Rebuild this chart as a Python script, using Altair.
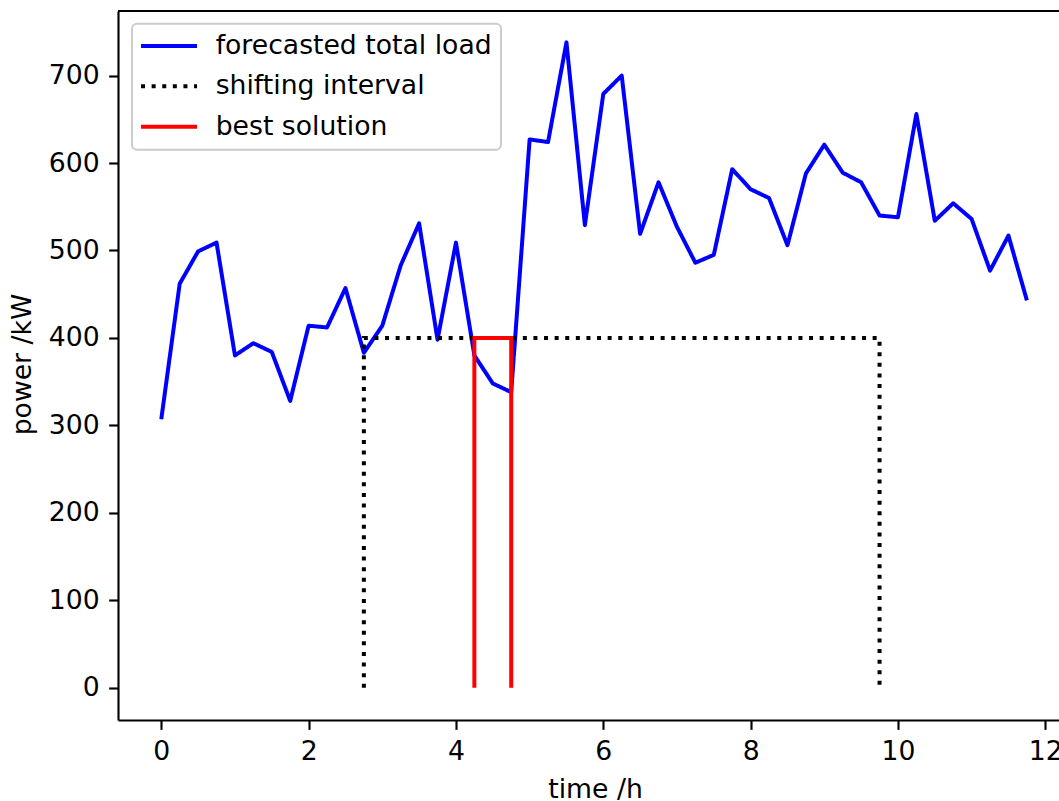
import altair as alt
import pandas as pd

# ---- data ----
time_h = [0.0, 0.25, 0.5, 0.75, 1.0, 1.25, 1.5, 1.75, 2.0, 2.25, 2.5, 2.75,
          3.0, 3.25, 3.5, 3.75, 4.0, 4.25, 4.5, 4.75, 5.0, 5.25, 5.5, 5.75,
          6.0, 6.25, 6.5, 6.75, 7.0, 7.25, 7.5, 7.75, 8.0, 8.25, 8.5, 8.75,
          9.0, 9.25, 9.5, 9.75, 10.0, 10.25, 10.5, 10.75, 11.0, 11.25, 11.5, 11.75]
load_kw = [307, 462, 499, 509, 380, 394, 384, 328, 414, 412, 457, 383,
           414, 483, 531, 398, 509, 380, 348, 338, 627, 624, 738, 529,
           679, 700, 519, 578, 527, 486, 495, 593, 570, 560, 506, 588,
           621, 589, 578, 540, 538, 656, 534, 554, 536, 477, 517, 443]

shift_t = [2.75, 2.75, 9.75, 9.75]
shift_p = [0, 400, 400, 0]
best_t = [4.25, 4.25, 4.75, 4.75]
best_p = [0, 400, 400, 0]

names = ["forecasted total load", "shifting interval", "best solution"]
colors = ["#0000ff", "#000000", "#ff0000"]
dashes = [[1, 0], [4, 6.6], [1, 0]]

x_ticks = [0, 2, 4, 6, 8, 10, 12]
y_ticks = [0, 100, 200, 300, 400, 500, 600, 700]

rows = []
for i, (t, p) in enumerate(zip(time_h, load_kw)):
    rows.append({"t": t, "p": p, "series": names[0], "k": i})
for i, (t, p) in enumerate(zip(shift_t, shift_p)):
    rows.append({"t": t, "p": p, "series": names[1], "k": i})
for i, (t, p) in enumerate(zip(best_t, best_p)):
    rows.append({"t": t, "p": p, "series": names[2], "k": i})
df = pd.DataFrame(rows)

W, H = 941, 709
FONT = "DejaVu Sans"
FS = 26.67

xscale = alt.Scale(domain=[-0.5875, 12.186], nice=False, zero=False)
yscale = alt.Scale(domain=[-36.85, 773.85], nice=False, zero=False)

leg = alt.Legend(orient="none", legendX=14, legendY=12.7,
                 symbolType="M-3,0H3", symbolSize=348.4, symbolStrokeWidth=4,
                 symbolOffset=14.7, labelFontSize=FS,
                 labelFont=FONT, labelColor="black", labelOffset=33.3,
                 labelLimit=600, rowPadding=12.3, padding=9,
                 strokeColor="#cccccc", fillColor="rgba(255,255,255,0.8)",
                 cornerRadius=5)

enc = dict(
    x=alt.X("t:Q", scale=xscale,
            axis=alt.Axis(values=x_ticks, title="time /h", titleX=477, titleY=77,
                          titleAlign="center", titleBaseline="alphabetic",
                          labelFlush=False, labelOverlap=False)),
    y=alt.Y("p:Q", scale=yscale,
            axis=alt.Axis(values=y_ticks, title="power /kW", titleX=-88, titleY=353,
                          titleAngle=270, titleAlign="center",
                          titleBaseline="alphabetic", labelOverlap=False)),
    color=alt.Color("series:N", scale=alt.Scale(domain=names, range=colors),
                    title=None, legend=leg),
    strokeDash=alt.StrokeDash("series:N", scale=alt.Scale(domain=names, range=dashes),
                              title=None, legend=leg),
    order=alt.Order("k:Q"),
)

base = alt.Chart(df)
load_line = base.transform_filter(alt.datum.series == names[0]).mark_line(
    strokeWidth=4, strokeJoin="round").encode(**enc)
shift_line = base.transform_filter(alt.datum.series == names[1]).mark_line(
    strokeWidth=4).encode(**enc)
best_line = base.transform_filter(alt.datum.series == names[2]).mark_line(
    strokeWidth=4).encode(**enc)

top_spine = alt.Chart(pd.DataFrame({"a": [0]})).mark_rule(
    color="black", strokeWidth=2.13).encode(x=alt.value(0), x2=alt.value(W), y=alt.value(0))

chart = alt.layer(load_line, shift_line, best_line, top_spine).properties(
    width=W, height=H,
    autosize=alt.AutoSizeParams(type="none"),
    padding={"left": 118, "top": 11, "right": 0, "bottom": 81},
    background="white",
).configure_view(stroke="transparent").configure_axis(
    grid=False, domainColor="black", domainWidth=2.13, tickColor="black",
    tickWidth=2.13, tickSize=9.33, labelFont=FONT, labelFontSize=FS,
    labelColor="black", labelPadding=9.5, titleFont=FONT, titleFontSize=FS,
    titleFontWeight="normal", titleColor="black",
).configure_legend(strokeWidth=2)

chart.save("out.html", embed_options={"renderer": "svg", "actions": False})
